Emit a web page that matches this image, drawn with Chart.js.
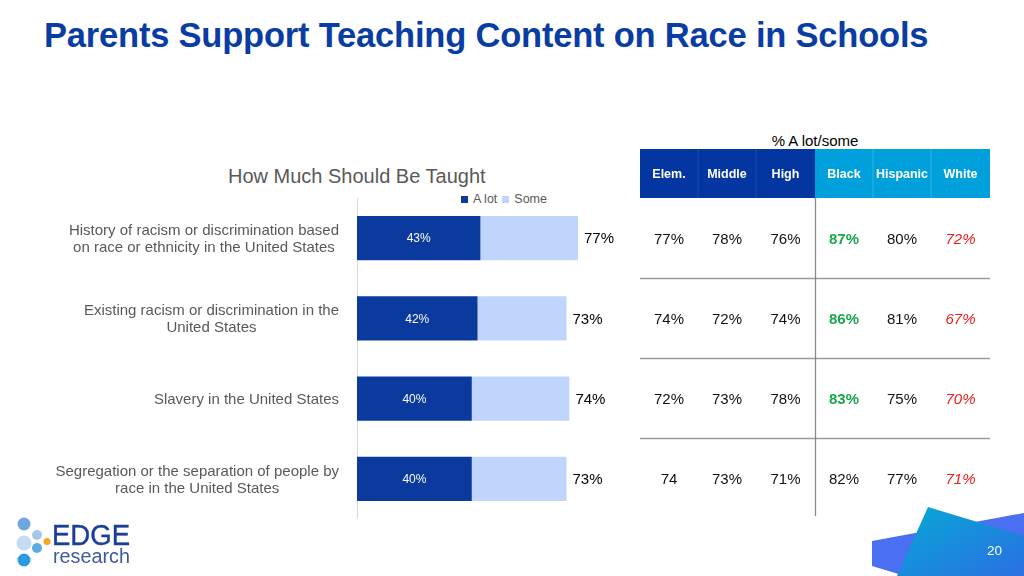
<!DOCTYPE html>
<html>
<head>
<meta charset="utf-8">
<script src="https://cdn.jsdelivr.net/npm/chart.js@4/dist/chart.umd.min.js"></script>
<style>
  html, body { margin:0; padding:0; background:#fff; }
  body { width:1024px; height:576px; position:relative; overflow:hidden; font-family:"Liberation Sans", Arial, Helvetica, sans-serif; }
  .abs { position:absolute; }
  #title { left:44px; top:16px; font-size:34.5px; font-weight:bold; color:#0a3da3; white-space:nowrap; letter-spacing:-0.2px; }
  #subtitle { left:228px; top:165px; font-size:20px; color:#595959; white-space:nowrap; }
  #legend { left:461px; top:192px; font-size:12.5px; color:#595959; white-space:nowrap; display:flex; align-items:center; }
  #legend .sw { width:7px; height:7px; display:inline-block; margin-right:5px; }
  #chartBox { left:0px; top:190px; width:644px; height:329px; }
  #tbl { left:640px; top:149px; }
  #pct { left:740px; top:132px; width:150px; text-align:center; font-size:15px; color:#000; }
  #pagenum { left:987px; top:543px; font-size:13.5px; color:#fff; }
</style>
</head>
<body>
<div id="title" class="abs">Parents Support Teaching Content on Race in Schools</div>
<div id="subtitle" class="abs">How Much Should Be Taught</div>
<div id="legend" class="abs"><span class="sw" style="background:#0a3a9e"></span><span style="margin-right:5px">A lot</span><span class="sw" style="background:#bfd5fb"></span><span>Some</span></div>
<div id="pct" class="abs">% A lot/some</div>
<div id="chartBox" class="abs"><canvas id="c"></canvas></div>
<svg id="tbl" class="abs" width="384" height="380"></svg>
<svg class="abs" style="left:0;top:0" width="1024" height="576" id="deco">
  <defs>
    <linearGradient id="gT" x1="0" y1="0" x2="1" y2="1">
      <stop offset="0" stop-color="#06a9d4"/>
      <stop offset="1" stop-color="#2b6fe3"/>
    </linearGradient>
  </defs>
  <polygon points="872,541 1024,513 1024,576 905,576 872,566" fill="#4a6ff0"/>
  <polygon points="928,507 1024,536 1024,576 897,576" fill="url(#gT)"/>
  <circle cx="24" cy="524" r="6.5" fill="#6fa6e2"/>
  <circle cx="24" cy="543" r="7.5" fill="#c4dbf3"/>
  <circle cx="37" cy="535" r="5" fill="#a6c6ec"/>
  <circle cx="37" cy="548" r="5" fill="#58ade2"/>
  <circle cx="47" cy="541.5" r="3.5" fill="#f5a623"/>
  <circle cx="24" cy="560" r="6.5" fill="#2a9be0"/>
  <text x="52" y="545" font-family="Liberation Sans, Arial" font-size="29" fill="#1b3f96" stroke="#1b3f96" stroke-width="0.4" textLength="78" lengthAdjust="spacingAndGlyphs">EDGE</text>
  <text x="53" y="563" font-family="Liberation Sans, Arial" font-size="20" fill="#3f5b9c" textLength="77" lengthAdjust="spacingAndGlyphs">research</text>
</svg>
<div id="pagenum" class="abs">20</div>
<script>
// ---- Data ----
const categories = [
  ["History of racism or discrimination based", "on race or ethnicity in the United States"],
  ["Existing racism or discrimination in the", "United States"],
  ["Slavery in the United States"],
  ["Segregation or the separation of people by", "race in the United States"]
];
const aLot = [43, 42, 40, 40];
const some = [34, 31, 34, 33];
const totals = [77, 73, 74, 73];

const tableHeaders = ["Elem.", "Middle", "High", "Black", "Hispanic", "White"];
const tableRows = [
  ["77%", "78%", "76%", "87%", "80%", "72%"],
  ["74%", "72%", "74%", "86%", "81%", "67%"],
  ["72%", "73%", "78%", "83%", "75%", "70%"],
  ["74", "73%", "71%", "82%", "77%", "71%"]
];
const greenCells = [[0,3],[1,3],[2,3]];

// ---- Table (SVG) ----
(function(){
  const svg = document.getElementById('tbl');
  const NS = 'http://www.w3.org/2000/svg';
  const colW = [58, 58, 59, 58, 58, 59];
  const headH = 49, rowH = 80;
  function el(name, attrs, text){ const e=document.createElementNS(NS,name); for(const k in attrs) e.setAttribute(k,attrs[k]); if(text!==undefined) e.textContent=text; svg.appendChild(e); return e; }
  let x = 0; const xs = [];
  for (let i=0;i<6;i++){ xs.push(x); x += colW[i]; }
  const totalW = x;
  el('rect',{x:0,y:0,width:xs[3],height:headH,fill:'#0336a0'});
  el('rect',{x:xs[3],y:0,width:totalW-xs[3],height:headH,fill:'#00a0dc'});
  for (let i=1;i<6;i++){ if(i===3) continue; el('line',{x1:xs[i],y1:0,x2:xs[i],y2:headH,stroke:i<3?'#1b4aac':'#2fb2e4','stroke-width':1}); }
  for (let i=0;i<6;i++){
    el('text',{x:xs[i]+colW[i]/2,y:29,'text-anchor':'middle','font-family':'Liberation Sans, Arial','font-size':12.5,'font-weight':'bold',fill:'#fff'}, tableHeaders[i]);
  }
  for (let r=1;r<4;r++){ el('line',{x1:0,y1:headH+r*rowH+0.5,x2:350,y2:headH+r*rowH+0.5,stroke:'#9a9a9a','stroke-width':1.3}); }
  el('line',{x1:xs[3]+0.5,y1:headH,x2:xs[3]+0.5,y2:headH+4*rowH-2,stroke:'#8a8a8a','stroke-width':1.3});
  for (let r=0;r<4;r++){
    for (let c=0;c<6;c++){
      const g = greenCells.some(p=>p[0]===r&&p[1]===c);
      const red = c===5;
      el('text',{x:xs[c]+colW[c]/2,y:headH+r*rowH+46,'text-anchor':'middle','font-family':'Liberation Sans, Arial','font-size':15,
        'font-weight':g?'bold':'normal','font-style':red?'italic':'normal',fill:g?'#1aa64f':(red?'#ee1c1c':'#111')}, tableRows[r][c]);
    }
  }
})();

// ---- Chart ----
const labelPlugin = {
  id: 'customLabels',
  afterDatasetsDraw(chart){
    const ctx = chart.ctx;
    const yScale = chart.scales.y;
    ctx.save();
    // Category labels
    ctx.font = '15px "Liberation Sans", Arial, sans-serif';
    ctx.fillStyle = '#595959';
    ctx.textAlign = 'center';
    ctx.textBaseline = 'middle';
    const rightEdge = chart.chartArea.left - 18;
    const lh = 17;
    categories.forEach((lines, i) => {
      const y = yScale.getPixelForValue(i);
      const maxW = Math.max(...lines.map(l => ctx.measureText(l).width));
      const cx = rightEdge - maxW / 2;
      const y0 = y - (lines.length - 1) * lh / 2 + 1;
      lines.forEach((l, j) => ctx.fillText(l, cx, y0 + j * lh));
    });
    // Segment labels
    const m0 = chart.getDatasetMeta(0);
    ctx.font = '12px "Liberation Sans", Arial, sans-serif';
    ctx.fillStyle = '#ffffff';
    m0.data.forEach((bar, i) => {
      const cx = (bar.base + bar.x) / 2;
      ctx.fillText(aLot[i] + '%', cx, bar.y + 1);
    });
    // Totals
    const m1 = chart.getDatasetMeta(1);
    ctx.font = '15px "Liberation Sans", Arial, sans-serif';
    ctx.fillStyle = '#000000';
    ctx.textAlign = 'left';
    m1.data.forEach((bar, i) => {
      ctx.fillText(totals[i] + '%', bar.x + 6, bar.y + 1);
    });
    ctx.restore();
  }
};

new Chart(document.getElementById('c'), {
  type: 'bar',
  data: {
    labels: categories,
    datasets: [
      { label: 'A lot', data: aLot, backgroundColor: '#0a3a9e', borderWidth: 0 },
      { label: 'Some', data: some, backgroundColor: '#bfd5fb', borderWidth: 0 }
    ]
  },
  options: {
    indexAxis: 'y',
    responsive: true,
    maintainAspectRatio: false,
    animation: false,
    layout: { padding: { top: 8, bottom: 0, left: 0, right: 0 } },
    barPercentage: 0.55,
    categoryPercentage: 1,
    plugins: { legend: { display: false }, tooltip: { enabled: false } },
    scales: {
      x: { stacked: true, min: 0, max: 100, display: false },
      y: {
        stacked: true,
        grid: { display: false },
        border: { display: true, color: '#d9d9d9', width: 1 },
        ticks: { display: false },
        afterFit(scale){ scale.width = 357; }
      }
    }
  },
  plugins: [labelPlugin]
});
</script>
</body>
</html>
